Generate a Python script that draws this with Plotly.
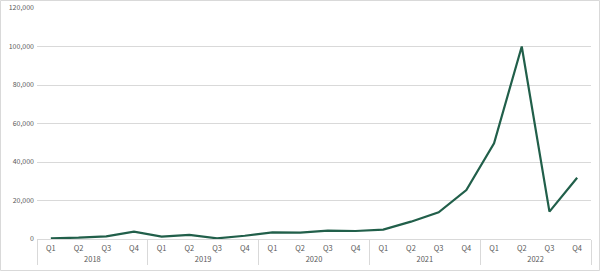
import plotly.graph_objects as go

years = ["2018"] * 4 + ["2019"] * 4 + ["2020"] * 4 + ["2021"] * 4 + ["2022"] * 4
quarters = ["Q1", "Q2", "Q3", "Q4"] * 5
values = [360, 680, 1400, 3800,
          1200, 2100, 350, 1700,
          3450, 3300, 4300, 4150,
          4850, 9000, 13850, 25450,
          49700, 100000, 14200, 31850]

LINE = "#215F4A"
TXT = "#595959"
GRID = "#D9D9D9"
FONT = "Noto Sans CJK SC, Liberation Sans, sans-serif"

fig = go.Figure()
fig.add_trace(go.Scatter(x=[years, quarters], y=values, mode="lines",
                         line=dict(color=LINE, width=2.2), hoverinfo="skip"))

W, H = 600, 271
ml, mr, mt, mb = 37, 9, 8, 32
fig.update_layout(
    width=W, height=H,
    margin=dict(l=ml, r=mr, t=mt, b=mb, autoexpand=False),
    paper_bgcolor="white", plot_bgcolor="white",
    showlegend=False,
    font=dict(family=FONT, size=7, color=TXT),
    yaxis=dict(range=[0, 120000], autorange=False, dtick=20000, tickformat=",",
               showgrid=True, automargin=False,
               gridcolor=GRID, gridwidth=1, zeroline=False, showline=False,
               ticks="", ticklen=0, ticklabelstandoff=2,
               tickfont=dict(family=FONT, size=7, color=TXT)),
    xaxis=dict(type="multicategory", range=[-0.5, 19.5], autorange=False,
               automargin=False, showgrid=False, showline=True,
               linecolor=GRID, linewidth=1, ticks="", ticklabelstandoff=2,
               showdividers=True, dividercolor=GRID, dividerwidth=1,
               tickfont=dict(family=FONT, size=7.5, color=TXT)),
)
# outer chart border
pw = W - ml - mr
ph = H - mt - mb
fig.add_shape(type="rect", xref="paper", yref="paper",
              x0=(0.5 - ml) / pw, x1=(W - 0.5 - ml) / pw,
              y0=-(mb - 0.5) / ph, y1=(H - mb - 0.5) / ph,
              line=dict(color=GRID, width=1), layer="below")
fig.write_html("out.html")
